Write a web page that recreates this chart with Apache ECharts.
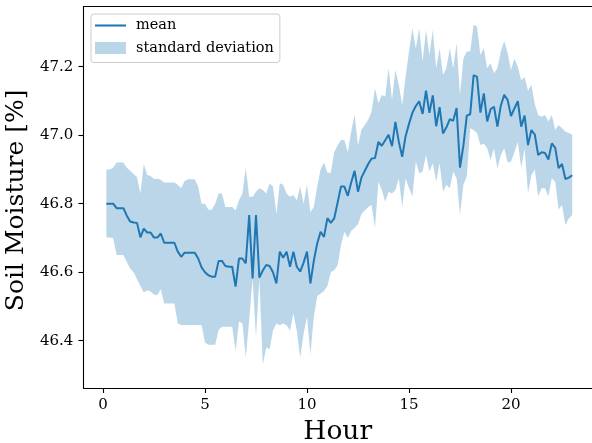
<!DOCTYPE html>
<html>
<head>
<meta charset="utf-8">
<script src="https://cdn.jsdelivr.net/npm/echarts@6/dist/echarts.min.js"></script>
<style>
html,body{margin:0;padding:0;background:#fff;}
#chart{width:592px;height:443px;}
</style>
</head>
<body>
<div id="chart"></div>
<script>
// Sampling grid: one reading every 10 minutes, from 00:10 to 23:00
const minutes = Array.from({length: 138}, (_, k) => (k + 1) * 10);
const hours = minutes.map(m => m / 60);

const meanValues = [
46.800,46.800,46.800,46.787,46.787,46.787,46.765,46.748,46.745,46.744,
46.702,46.727,46.716,46.716,46.701,46.701,46.713,46.686,46.686,46.686,
46.686,46.660,46.645,46.657,46.657,46.657,46.657,46.640,46.614,46.600,
46.591,46.587,46.587,46.633,46.633,46.618,46.616,46.616,46.558,46.640,
46.640,46.626,46.767,46.582,46.767,46.584,46.605,46.621,46.618,46.600,
46.567,46.660,46.642,46.660,46.616,46.660,46.616,46.602,46.628,46.660,
46.567,46.633,46.684,46.718,46.703,46.758,46.744,46.757,46.803,46.850,
46.850,46.823,46.862,46.896,46.835,46.876,46.896,46.916,46.932,46.933,
46.980,46.969,46.985,47.001,46.968,47.039,46.981,46.937,46.997,47.033,
47.065,47.085,47.099,47.062,47.130,47.065,47.116,47.026,47.082,47.005,
47.023,47.047,47.042,47.079,46.905,46.970,47.057,47.061,47.175,47.170,
47.066,47.122,47.040,47.076,47.083,47.025,47.086,47.118,47.103,47.056,
47.078,47.099,47.025,47.057,46.971,47.015,47.002,46.942,46.950,46.948,
46.929,46.976,46.963,46.904,46.916,46.872,46.876,46.883
];

const upperValues = [
46.900,46.900,46.905,46.920,46.920,46.920,46.905,46.896,46.887,46.878,
46.830,46.916,46.884,46.881,46.872,46.873,46.870,46.862,46.862,46.862,
46.862,46.855,46.845,46.866,46.871,46.871,46.871,46.850,46.800,46.800,
46.782,46.782,46.800,46.830,46.830,46.790,46.790,46.790,46.780,46.810,
46.830,46.905,46.820,46.820,46.835,46.845,46.840,46.830,46.860,46.850,
46.770,46.860,46.855,46.830,46.820,46.825,46.810,46.850,46.800,46.855,
46.775,46.790,46.850,46.900,46.920,46.890,46.890,46.950,46.970,46.986,
46.986,46.950,47.010,47.060,46.970,47.015,47.030,47.045,47.069,47.137,
47.093,47.117,47.113,47.195,47.103,47.190,47.147,47.088,47.171,47.244,
47.312,47.254,47.312,47.215,47.307,47.234,47.307,47.195,47.254,47.176,
47.195,47.254,47.195,47.268,47.117,47.224,47.244,47.244,47.322,47.317,
47.234,47.254,47.195,47.210,47.181,47.195,47.244,47.275,47.240,47.190,
47.224,47.200,47.160,47.170,47.130,47.147,47.090,47.059,47.054,47.059,
47.040,47.059,47.015,47.030,47.020,47.010,47.006,47.001
];

const lowerValues = [
46.701,46.701,46.700,46.650,46.650,46.650,46.630,46.611,46.600,46.580,
46.560,46.541,46.547,46.544,46.535,46.533,46.550,46.509,46.509,46.509,
46.509,46.450,46.446,46.446,46.446,46.446,46.446,46.446,46.446,46.395,
46.388,46.388,46.388,46.431,46.441,46.441,46.441,46.441,46.370,46.456,
46.451,46.350,46.460,46.580,46.410,46.580,46.330,46.380,46.375,46.430,
46.450,46.445,46.450,46.445,46.430,46.480,46.430,46.350,46.420,46.470,
46.360,46.470,46.530,46.538,46.545,46.560,46.600,46.606,46.620,46.680,
46.718,46.700,46.720,46.730,46.740,46.770,46.780,46.790,46.796,46.730,
46.864,46.840,46.806,46.835,46.830,46.840,46.874,46.790,46.874,46.845,
46.821,46.923,46.889,46.894,46.942,46.894,46.918,46.864,46.918,46.835,
46.855,46.845,46.894,46.874,46.767,46.855,46.879,47.020,47.015,47.006,
46.971,46.976,46.962,46.928,46.962,46.903,46.942,46.962,46.920,46.923,
46.950,46.980,46.905,46.960,46.830,46.884,46.900,46.821,46.845,46.845,
46.821,46.874,46.864,46.782,46.796,46.738,46.757,46.767
];

const xTicks = [0, 5, 10, 15, 20];
const yTicks = [46.4, 46.6, 46.8, 47.0, 47.2];
const xLabel = 'Hour';
const yLabel = 'Soil Moisture [%]';
const seriesNames = ['mean', 'standard deviation'];

const FONT = 'DejaVu Serif';
const BAND = 'rgba(31,119,180,0.3)';
const LINE = '#1f77b4';

const chart = echarts.init(document.getElementById('chart'), null, {renderer: 'canvas'});

const bandData = hours.map((h, k) => [h, lowerValues[k], upperValues[k]]);
const meanData = hours.map((h, k) => [h, meanValues[k]]);

chart.setOption({
  animation: false,
  backgroundColor: '#fff',
  grid: {left: 83.4, right: 0, top: 6.7, bottom: 55, containLabel: false, outerBoundsMode: 'none'},
  legend: {
    orient: 'vertical',
    left: 91, top: 14,
    padding: [4, 6, 7, 4],
    itemGap: 7.5,
    itemWidth: 31,
    itemHeight: 12,
    symbolKeepAspect: true,
    backgroundColor: 'rgba(255,255,255,0.8)',
    borderColor: '#cccccc',
    borderWidth: 1,
    borderRadius: 3,
    textStyle: {fontFamily: FONT, fontSize: 14.5, color: '#000', padding: [0, 0, 0, 5]},
    data: [
      {name: seriesNames[0], icon: 'path://M0,0L30,0L30,2L0,2Z', itemStyle: {color: LINE}},
      {name: seriesNames[1], icon: 'rect', itemStyle: {color: BAND}}
    ]
  },
  xAxis: [{
    type: 'value', min: -0.96, max: 23.97,
    axisLine: {show: true, onZero: false, lineStyle: {color: '#000', width: 1.1}},
    axisTick: {show: true, length: 5, customValues: xTicks, lineStyle: {color: '#000', width: 1.1}},
    axisLabel: {show: true, customValues: xTicks, margin: 10, color: '#000', fontFamily: FONT, fontSize: 15,
      formatter: v => String(v)},
    splitLine: {show: false},
    name: xLabel, nameLocation: 'middle', nameGap: 31,
    nameTextStyle: {fontFamily: FONT, fontSize: 26.5, color: '#000'}
  }, {
    type: 'value', position: 'top', min: -0.96, max: 23.97,
    axisLine: {show: true, onZero: false, lineStyle: {color: '#000', width: 1.1}},
    axisTick: {show: false}, axisLabel: {show: false}, splitLine: {show: false}
  }],
  yAxis: {
    type: 'value', min: 46.262, max: 47.375,
    axisLine: {show: true, onZero: false, lineStyle: {color: '#000', width: 1.1}},
    axisTick: {show: true, length: 5, customValues: yTicks, lineStyle: {color: '#000', width: 1.1}},
    axisLabel: {show: true, customValues: yTicks, margin: 10, color: '#000', fontFamily: FONT, fontSize: 15,
      formatter: v => v.toFixed(1)},
    splitLine: {show: false},
    name: yLabel, nameLocation: 'middle', nameGap: 28,
    nameTextStyle: {fontFamily: FONT, fontSize: 25, color: '#000', padding: [0, 6, 0, 0]}
  },
  series: [{
    name: seriesNames[1],
    type: 'custom',
    z: 1,
    silent: true,
    itemStyle: {color: BAND},
    data: bandData,
    encode: {x: 0, y: [1, 2]},
    renderItem: function (params, api) {
      if (params.dataIndex !== 0) return null;
      const pts = [];
      for (let k = 0; k < bandData.length; k++) pts.push(api.coord([bandData[k][0], bandData[k][2]]));
      for (let k = bandData.length - 1; k >= 0; k--) pts.push(api.coord([bandData[k][0], bandData[k][1]]));
      return {type: 'polygon', shape: {points: pts}, style: {fill: BAND, stroke: null}};
    }
  }, {
    name: seriesNames[0],
    type: 'line',
    z: 3,
    data: meanData,
    symbol: 'none',
    showSymbol: false,
    silent: true,
    lineStyle: {color: LINE, width: 2},
    itemStyle: {color: LINE}
  }]
});
</script>
</body>
</html>
